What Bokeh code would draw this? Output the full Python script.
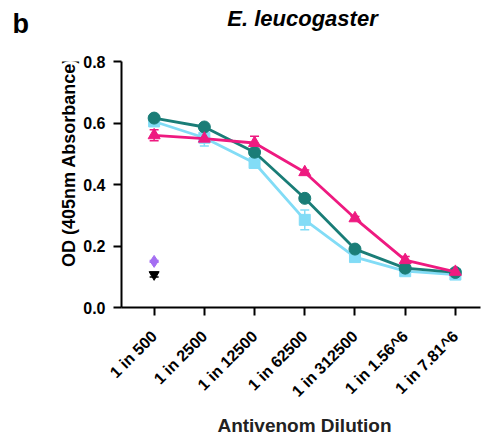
import numpy as np
from bokeh.plotting import figure
from bokeh.layouts import column, row
from bokeh.models import ColumnDataSource, Whisker, FixedTicker, TeeHead, Range1d
from bokeh.core.properties import value
from bokeh.embed import file_html
from bokeh.resources import INLINE

# ---- data ----
dilutions = ["1 in 500", "1 in 2500", "1 in 12500", "1 in 62500",
             "1 in 312500", "1 in 1.56^6", "1 in 7.81^6"]
teal_mean = [0.616, 0.587, 0.505, 0.355, 0.190, 0.128, 0.114]
teal_err = [0.006, 0.005, 0.006, 0.005, 0.005, 0.004, 0.004]
cyan_mean = [0.605, 0.552, 0.470, 0.285, 0.164, 0.118, 0.107]
cyan_err = [0.008, 0.027, 0.010, 0.032, 0.008, 0.005, 0.005]
pink_mean = [0.560, 0.549, 0.535, 0.440, 0.290, 0.154, 0.116]
pink_err = [0.018, 0.005, 0.022, 0.007, 0.006, 0.012, 0.004]
purple_mean = [0.150]
purple_err = [0.003]
black_mean = [0.107]
black_err = [0.008]

y_ticks = [0.0, 0.2, 0.4, 0.6, 0.8]
panel_letter = "b"
title_text = "E. leucogaster"
x_label = "Antivenom Dilution"
y_label = "OD (405nm Absorbance)"

TEAL = "#1a7d77"
CYAN = "#82dcf6"
PINK = "#ee1a80"
PURPLE = "#a46ef2"
BLACK = "#000000"
FONT = "Liberation Sans"

W = 483
HEAD_H = 44
TOP_B = 17
FRAME_H = 246
BOT_B = 104
MAIN_H = TOP_B + FRAME_H + BOT_B
FOOT_H = 436 - HEAD_H - MAIN_H
STRIP_W = 80


def drop_title(f):
    try:
        f.title = None
    except Exception:
        f.title.visible = False


def blank(width, height):
    f = figure(width=width, height=height, output_backend="svg",
               toolbar_location=None,
               x_range=Range1d(0, width), y_range=Range1d(0, height),
               min_border=0, min_border_left=0, min_border_right=0,
               min_border_top=0, min_border_bottom=0)
    drop_title(f)
    f.axis.visible = False
    f.grid.visible = False
    f.outline_line_color = None
    return f


def put_text(f, x, y, txt, size, style="bold", align="left",
             baseline="alphabetic", angle=0.0, color="black"):
    f.text(x=[x], y=[y], text=[txt], angle=angle,
           text_font=value(FONT), text_font_style=style,
           text_font_size=value(size), text_color=color,
           text_align=align, text_baseline=baseline)


# ---- header strip: panel letter and title ----
head = blank(W, HEAD_H)
put_text(head, 12, 21, panel_letter, "27px")
put_text(head, 302, 26, title_text, "22px", style="bold italic",
         align="center")

# ---- left strip: y axis title ----
ystrip = blank(STRIP_W, MAIN_H)
put_text(ystrip, 68, 217, y_label, "18px",
         align="center", baseline="middle", angle=np.pi / 2)

# ---- footer strip: x axis title ----
foot = blank(W, FOOT_H)
put_text(foot, 304, 11, x_label, "19px", align="center", color="#222222")

# ---- main plot ----
xs = list(range(len(dilutions)))

p = figure(width=W - STRIP_W, height=MAIN_H, output_backend="svg",
           toolbar_location=None,
           x_range=Range1d(-0.65, 6.5), y_range=Range1d(0, 0.8),
           min_border_left=39, min_border_right=3, min_border_top=TOP_B,
           min_border_bottom=BOT_B)
drop_title(p)
p.outline_line_color = None
p.grid.visible = False


def series(means, errs, x, color, marker, size):
    src = ColumnDataSource(dict(x=x, y=means,
                                lo=[m - e for m, e in zip(means, errs)],
                                hi=[m + e for m, e in zip(means, errs)]))
    w = Whisker(source=src, base="x", lower="lo", upper="hi",
                line_color=color, line_width=1.5,
                upper_head=TeeHead(size=9, line_color=color, line_width=1.5),
                lower_head=TeeHead(size=9, line_color=color, line_width=1.5))
    p.add_layout(w)
    if len(x) > 1:
        p.line("x", "y", source=src, line_color=color, line_width=2.8)
    p.scatter("x", "y", source=src, marker=marker, size=size,
              fill_color=color, line_color=color)


series(cyan_mean, cyan_err, xs, CYAN, "square", 11)
series(teal_mean, teal_err, xs, TEAL, "circle", 12)
series(pink_mean, pink_err, xs, PINK, "triangle", 12)
series(purple_mean, purple_err, xs[:1], PURPLE, "diamond", 12)
series(black_mean, black_err, xs[:1], BLACK, "inverted_triangle", 10)

for ax in (p.xaxis[0], p.yaxis[0]):
    ax.axis_line_width = 2
    ax.axis_line_color = "black"
    ax.major_tick_line_width = 2
    ax.major_tick_line_color = "black"
    ax.major_tick_out = 8
    ax.major_tick_in = 0
    ax.minor_tick_out = 0
    ax.minor_tick_in = 0
    ax.major_label_text_font = FONT
    ax.major_label_text_font_style = "bold"
    ax.major_label_text_color = "black"
    ax.major_label_text_font_size = "16px"

p.xaxis.ticker = FixedTicker(ticks=xs)
p.xaxis.major_label_overrides = {i: lab for i, lab in enumerate(dilutions)}
p.xaxis.major_label_orientation = np.pi / 4
p.xaxis.major_label_standoff = 18

p.yaxis.ticker = FixedTicker(ticks=y_ticks)
p.yaxis.major_label_overrides = {t: f"{t:.1f}" for t in y_ticks}
p.yaxis.major_label_standoff = 8

layout = column(head, row(ystrip, p, spacing=0), foot, spacing=0)
open("out.html", "w").write(file_html(layout, INLINE))
